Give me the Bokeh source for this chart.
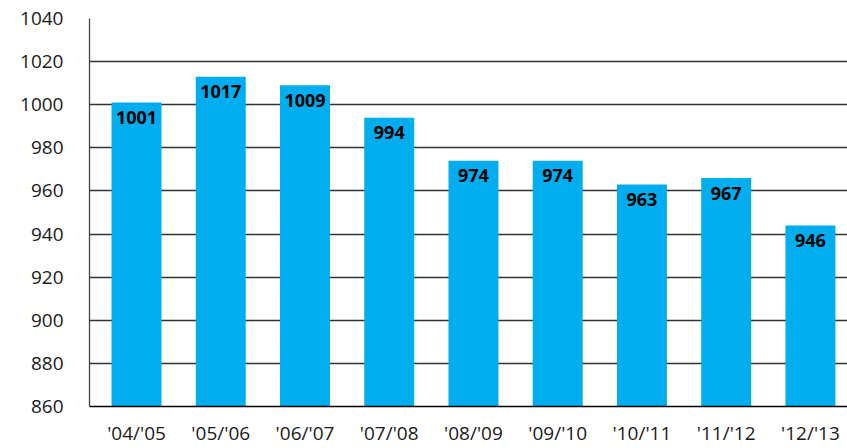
from bokeh.plotting import figure
from bokeh.models import ColumnDataSource, FixedTicker, Range1d
from bokeh.embed import file_html
from bokeh.resources import INLINE
from bokeh.core.properties import value

seasons = ["'04/'05", "'05/'06", "'06/'07", "'07/'08", "'08/'09",
           "'09/'10", "'10/'11", "'11/'12", "'12/'13"]
bar_heights = [1001, 1013, 1009, 994, 974, 974, 963, 966, 944]
bar_labels = ["1001", "1017", "1009", "994", "974", "974", "963", "967", "946"]
y_ticks = [860, 880, 900, 920, 940, 960, 980, 1000, 1020, 1040]

xs = list(range(len(seasons)))
src = ColumnDataSource(dict(x=xs, top=bar_heights, label=bar_labels))

p = figure(width=847, height=448, output_backend="svg", toolbar_location=None,
           x_range=Range1d(-0.558, 8.44), y_range=Range1d(860, 1040),
           min_border_left=89, min_border_right=0, min_border_top=18,
           min_border_bottom=42)
p.outline_line_color = None
p.background_fill_color = "white"

p.vbar(x="x", top="top", bottom=860, width=0.593, source=src,
       fill_color="#00AEEF", line_color=None)

p.text(x="x", y="top", text="label", source=src, text_align="center",
       text_baseline="middle", y_offset=15, text_font=value("Open Sans"),
       text_font_style="bold", text_font_size="18px", text_color="black")

p.xgrid.grid_line_color = None
p.ygrid.ticker = FixedTicker(ticks=y_ticks)
p.ygrid.grid_line_color = "#333333"
p.ygrid.grid_line_width = 1.3
p.ygrid.level = "underlay"

p.yaxis.ticker = FixedTicker(ticks=y_ticks)
p.xaxis.ticker = FixedTicker(ticks=xs)
p.xaxis.major_label_overrides = {i: s for i, s in zip(xs, seasons)}

for ax in (p.xaxis, p.yaxis):
    ax.major_tick_line_color = None
    ax.minor_tick_line_color = None
    ax.major_tick_out = 0
    ax.major_tick_in = 0
    ax.major_label_text_font = "Open Sans"
    ax.major_label_text_font_size = "19px"
    ax.major_label_text_color = "#1a1a1a"

p.yaxis.axis_line_color = "#444444"
p.yaxis.axis_line_width = 1.3
p.yaxis.major_label_standoff = 26
p.xaxis.axis_line_color = "black"
p.xaxis.axis_line_width = 1.5
p.xaxis.major_label_standoff = 13

open("out.html", "w").write(file_html(p, INLINE))
